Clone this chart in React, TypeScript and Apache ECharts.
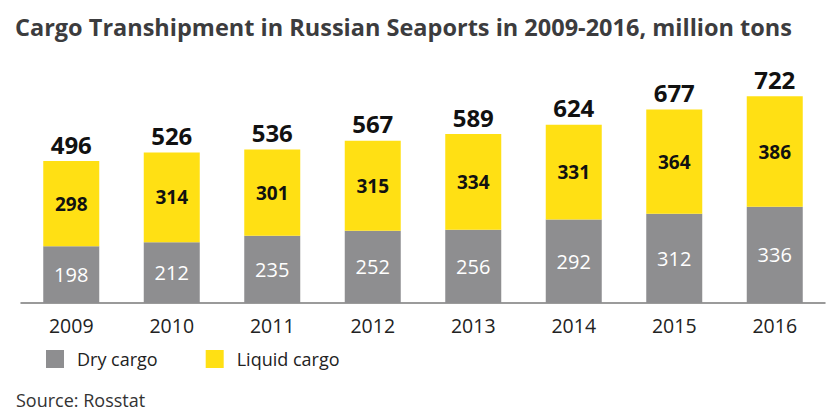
import React, { useEffect, useRef } from "react";
import * as echarts from "echarts";

const years = ["2009", "2010", "2011", "2012", "2013", "2014", "2015", "2016"];
const dryCargo = [198, 212, 235, 252, 256, 292, 312, 336];
const liquidCargo = [298, 314, 301, 315, 334, 331, 364, 386];
const totals = [496, 526, 536, 567, 589, 624, 677, 722];

const FONT = "Open Sans";

export default function App() {
  const ref = useRef<HTMLDivElement>(null);
  useEffect(() => {
    if (!ref.current) return;
    const chart = echarts.init(ref.current, null, { renderer: "svg" });
    chart.setOption({
      animation: false,
      backgroundColor: "#ffffff",
      textStyle: { fontFamily: FONT },
      title: [
        {
          text: "Cargo Transhipment in Russian Seaports in 2009-2016, million tons",
          left: 10,
          top: 10,
          textStyle: { fontFamily: FONT, fontSize: 23.5, fontWeight: "bold", color: "#3c3c3e" },
        },
        {
          text: "Source: Rosstat",
          left: 11,
          top: 386,
          textStyle: { fontFamily: FONT, fontSize: 18, fontWeight: "normal", color: "#333333" },
        },
      ],
      legend: {
        data: ["Dry cargo", "Liquid cargo"],
        left: 41,
        top: 345,
        itemWidth: 18,
        itemHeight: 18,
        itemGap: 48,
        icon: "rect",
        textStyle: { fontFamily: FONT, fontSize: 18, color: "#222222", padding: [0, 0, 0, 8] },
      },
      grid: { left: 21, right: 15, top: 74, bottom: 117 },
      xAxis: {
        type: "category",
        data: years,
        axisLine: { lineStyle: { color: "#7a7a7a", width: 1.5 } },
        axisTick: { inside: true, length: 10, lineStyle: { color: "#7a7a7a", width: 1.5 } },
        axisLabel: { fontFamily: FONT, fontSize: 19.5, color: "#222222", margin: 12 },
      },
      yAxis: { type: "value", min: 0, max: 800, show: false, splitLine: { show: false } },
      series: [
        {
          name: "Dry cargo",
          type: "bar",
          stack: "a",
          data: dryCargo,
          barWidth: 56,
          itemStyle: { color: "#8e8e90" },
          label: {
            show: true,
            position: "inside",
            fontFamily: FONT,
            fontSize: 20,
            color: "#ffffff",
          },
        },
        {
          name: "Liquid cargo",
          type: "bar",
          stack: "a",
          data: liquidCargo,
          barWidth: 56,
          itemStyle: { color: "#ffe014" },
          label: {
            show: true,
            position: "inside",
            fontFamily: FONT,
            fontSize: 19,
            fontWeight: "bold",
            color: "#111111",
          },
        },
        {
          name: "Total",
          type: "bar",
          stack: "a",
          data: totals.map(() => 0),
          barWidth: 56,
          itemStyle: { color: "transparent" },
          label: {
            show: true,
            position: "top",
            distance: 5,
            fontFamily: FONT,
            fontSize: 24,
            fontWeight: "bold",
            color: "#111111",
            formatter: (p: any) => String(totals[p.dataIndex]),
          },
        },
      ],
    });
    return () => chart.dispose();
  }, []);
  return (
    <div
      ref={ref}
      style={{ position: "fixed", left: 0, top: 0, width: 840, height: 420 }}
    />
  );
}
